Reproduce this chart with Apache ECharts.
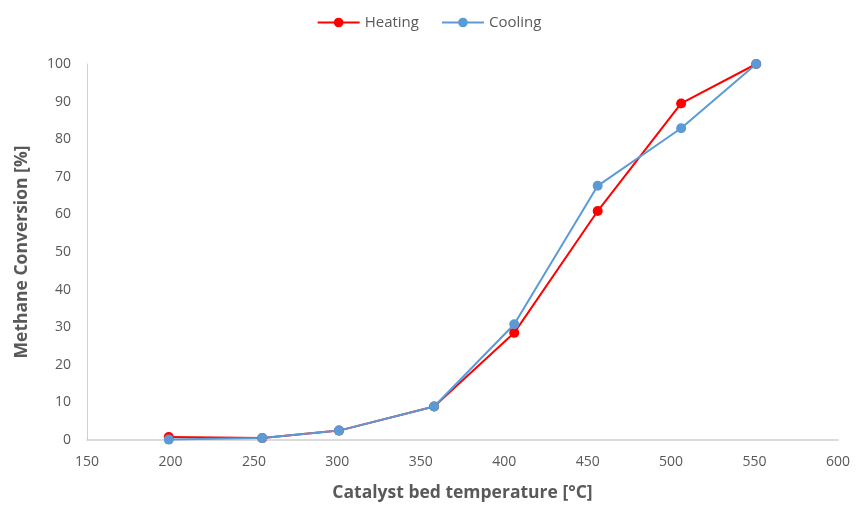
<!DOCTYPE html>
<html>
<head>
<meta charset="utf-8">
<script src="https://cdn.jsdelivr.net/npm/echarts@6/dist/echarts.min.js"></script>
<style>
  html, body { margin: 0; padding: 0; background: #fff; }
  #chart { width: 858px; height: 506px; }
</style>
</head>
<body>
<div id="chart"></div>
<script>
// Catalyst bed temperature [°C] at each measurement point
const temperatures = [199, 255, 301, 358, 406, 456, 506, 551];
// Methane conversion [%] while heating and cooling
const heating = [0.8, 0.5, 2.5, 8.9, 28.5, 60.9, 89.5, 100];
const cooling = [0.1, 0.5, 2.5, 8.9, 30.8, 67.6, 82.9, 100];

const pairs = vals => temperatures.map((t, i) => [t, vals[i]]);
const fontFamily = '"Open Sans", Lato, sans-serif';
const textColor = '#595959';

const chart = echarts.init(document.getElementById('chart'));
chart.setOption({
  animation: false,
  textStyle: { fontFamily },
  legend: {
    top: 10,
    left: 'center',
    itemWidth: 42,
    itemHeight: 12,
    itemGap: 22,
    textStyle: { color: textColor, fontSize: 15, fontFamily },
    data: ['Heating', 'Cooling']
  },
  grid: {
    left: 87, right: 20, top: 64, bottom: 66,
    containLabel: false,
    outerBoundsMode: 'none'
  },
  xAxis: {
    type: 'value',
    min: 150, max: 600, interval: 50,
    name: 'Catalyst bed temperature [°C]',
    nameLocation: 'middle',
    nameGap: 44,
    nameTextStyle: { color: textColor, fontSize: 17.5, fontWeight: 'bold', fontFamily },
    axisLine: { lineStyle: { color: '#d0d0d0', width: 1.5 } },
    axisTick: { show: false },
    splitLine: { show: false },
    axisLabel: { color: textColor, fontSize: 14, margin: 15, fontFamily }
  },
  yAxis: {
    type: 'value',
    min: 0, max: 100, interval: 10,
    name: 'Methane Conversion [%]',
    nameLocation: 'middle',
    nameGap: 56,
    nameTextStyle: { color: textColor, fontSize: 17.5, fontWeight: 'bold', fontFamily },
    axisLine: { show: true, lineStyle: { color: '#d0d0d0', width: 1 } },
    axisTick: { show: false },
    splitLine: { show: false },
    axisLabel: { color: textColor, fontSize: 14, margin: 16, fontFamily }
  },
  series: [
    {
      name: 'Heating',
      type: 'line',
      data: pairs(heating),
      symbol: 'circle',
      symbolSize: 10,
      lineStyle: { color: '#FF0000', width: 2 },
      itemStyle: { color: '#FF0000' }
    },
    {
      name: 'Cooling',
      type: 'line',
      data: pairs(cooling),
      symbol: 'circle',
      symbolSize: 10,
      lineStyle: { color: '#5B9BD5', width: 2 },
      itemStyle: { color: '#5B9BD5' }
    }
  ]
});
</script>
</body>
</html>
